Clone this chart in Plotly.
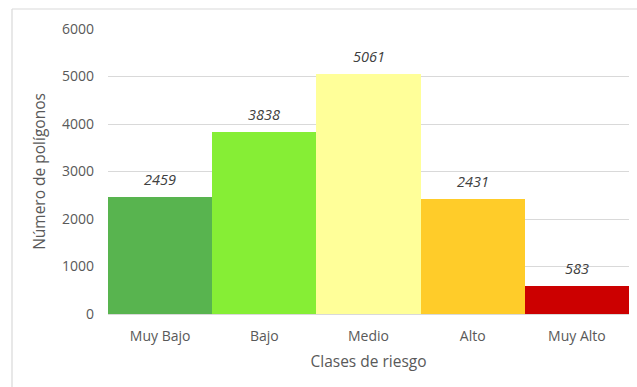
import plotly.graph_objects as go

# Risk classes and number of polygons per class
clases = ["Muy Bajo", "Bajo", "Medio", "Alto", "Muy Alto"]
poligonos = [2459, 3838, 5061, 2431, 583]
colores = ["#58B44F", "#86EE35", "#FFFF99", "#FFCC29", "#CC0000"]
y_ticks = [0, 1000, 2000, 3000, 4000, 5000, 6000]

FONT = "'Open Sans', Lato, sans-serif"
GRAY = "#595959"

fig = go.Figure(
    go.Bar(
        x=clases,
        y=poligonos,
        marker=dict(color=colores, line=dict(width=0)),
        width=1.0,
        hoverinfo="x+y",
    )
)

# Italic value labels above each bar
for c, v in zip(clases, poligonos):
    fig.add_annotation(
        x=c, y=v, text=f"<i>{v}</i>", showarrow=False,
        yanchor="bottom", yshift=6,
        font=dict(family=FONT, size=14.5, color="#404040"),
    )

# Outer chart frame (left and top edges)
L, T = 108, 29
W, H = 521, 285
fx0 = (12 - L) / W
fy1 = 1 + (T - 9) / H
fig.add_shape(type="line", xref="paper", yref="paper",
              x0=fx0, x1=fx0, y0=-1, y1=fy1,
              line=dict(color="#D9D9D9", width=1.2))
fig.add_shape(type="line", xref="paper", yref="paper",
              x0=fx0, x1=1.1, y0=fy1, y1=fy1,
              line=dict(color="#D9D9D9", width=1.2))

fig.update_layout(
    width=637, height=387,
    margin=dict(l=L, r=637 - L - W, t=T, b=387 - T - H),
    paper_bgcolor="white", plot_bgcolor="white",
    bargap=0, showlegend=False,
    font=dict(family=FONT, color=GRAY, size=14),
    xaxis=dict(
        title=dict(text="Clases de riesgo", font=dict(size=15.5, color=GRAY), standoff=12),
        showgrid=False, showline=True, linecolor="#D9D9D9", linewidth=1,
        ticks="", ticklabelstandoff=9, tickfont=dict(size=14, color=GRAY),
    ),
    yaxis=dict(
        title=dict(text="Número de polígonos", font=dict(size=15.5, color=GRAY), standoff=12),
        range=[0, 6000], tickvals=y_ticks,
        showgrid=True, gridcolor="#D9D9D9", gridwidth=1,
        zeroline=False, ticks="", ticklen=0, ticklabelstandoff=13,
        tickfont=dict(size=14, color=GRAY),
    ),
)

fig.write_html("out.html")
